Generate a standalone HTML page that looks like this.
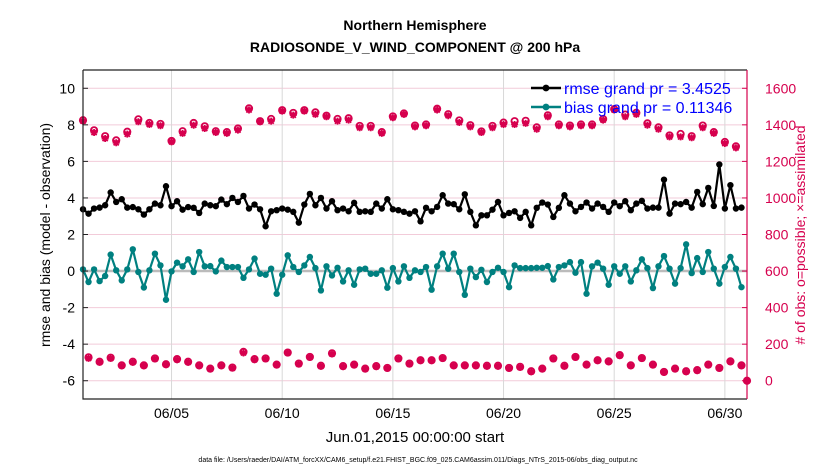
<!DOCTYPE html>
<html><head><meta charset="utf-8"><style>
html,body{margin:0;padding:0;background:#fff;width:830px;height:470px;overflow:hidden}
svg{display:block;font-family:"Liberation Sans",Arial,sans-serif}
</style></head><body>
<svg id="chart" width="830" height="470" viewBox="0 0 830 470" xmlns="http://www.w3.org/2000/svg">
<text x="415" y="30" text-anchor="middle" font-size="14" font-weight="bold">Northern Hemisphere</text>
<text x="415" y="52" text-anchor="middle" font-size="14" font-weight="bold">RADIOSONDE_V_WIND_COMPONENT @ 200 hPa</text>
<text transform="translate(50,235) rotate(-90)" text-anchor="middle" font-size="14">rmse and bias (model - observation)</text>
<text transform="translate(805,235) rotate(-90)" text-anchor="middle" font-size="14" fill="#d6004e"># of obs: o=possible; ×=assimilated</text>
<text x="415" y="442" text-anchor="middle" font-size="15">Jun.01,2015 00:00:00 start</text>
<text x="418" y="462" text-anchor="middle" font-size="7">data file: /Users/raeder/DAI/ATM_forcXX/CAM6_setup/f.e21.FHIST_BGC.f09_025.CAM6assim.011/Diags_NTrS_2015-06/obs_diag_output.nc</text>
<g id="grid"></g>
<g id="marks"></g>
<g id="axes"></g>
<g id="legend"></g>
</svg>
<script>
const xTickDays=[4,9,14,19,24,29];
const xTickLabels=["06/05","06/10","06/15","06/20","06/25","06/30"];
const leftTicks=[-6,-4,-2,0,2,4,6,8,10];
const rightTicks=[0,200,400,600,800,1000,1200,1400,1600];
const rmse=[3.38,3.14,3.42,3.47,3.6,4.3,3.78,3.93,3.47,3.5,3.38,3.09,3.38,3.69,3.6,4.64,3.55,3.82,3.36,3.5,3.46,3.18,3.69,3.6,3.55,3.91,3.66,4.0,3.78,4.11,
3.42,3.64,3.38,2.45,3.27,3.33,3.42,3.36,3.24,2.65,3.64,4.22,3.6,4.0,3.42,3.82,3.33,3.42,3.27,3.73,3.24,3.27,3.24,3.69,3.42,3.93,3.38,3.33,3.24,3.14,
3.27,2.72,3.46,3.27,3.51,4.15,3.69,3.66,3.38,4.2,3.24,2.5,3.05,3.05,3.36,3.78,3.05,3.18,3.27,2.91,3.24,2.5,3.46,3.75,3.64,2.96,3.46,4.15,3.69,3.27,
3.51,3.75,3.42,3.69,3.51,3.24,3.75,3.55,3.82,3.33,3.69,3.84,3.42,3.47,3.47,5.0,3.14,3.69,3.66,3.78,3.47,4.33,3.66,4.55,3.56,5.83,3.42,4.7,3.42,3.47];
const bias=[0.09,-0.6,0.09,-0.55,-0.27,0.9,0.04,-0.51,0.09,1.19,-0.05,-0.9,0.04,0.95,0.31,-1.57,-0.02,0.46,0.26,0.64,-0.05,1.04,0.26,0.27,-0.02,0.57,0.22,0.22,0.22,-0.37,
0.09,0.68,-0.15,-0.2,0.13,-1.24,-0.2,0.86,0.22,-0.05,0.31,0.77,0.16,-1.06,0.26,-0.24,0.18,-0.57,0.04,-0.75,0.09,0.13,-0.15,-0.15,0.04,-0.91,0.16,-0.57,0.26,-0.37,
0.04,-0.05,0.22,-1.02,0.26,0.95,0.13,0.95,-0.05,-1.3,0.13,-0.33,0.07,-0.6,-0.05,0.18,-0.05,-0.88,0.31,0.16,0.16,0.16,0.18,0.18,0.27,-0.46,0.22,0.31,0.49,-0.09,
0.49,-1.24,0.26,0.46,0.13,-0.75,0.26,-0.15,0.26,-0.57,0.04,0.64,0.16,-0.93,0.26,0.82,0.13,-0.69,0.16,1.46,-0.11,0.71,-0.05,1.04,0.13,-0.69,0.22,0.77,0.13,-0.88];
const assimMain=[1420,1358,1325,1302,1349,1417,1402,1395,1307,1353,1398,1380,1358,1353,1371,1481,1417,1420,1475,1453,1475,1457,1444,1420,1426,1384,1384,1353,1439,1457,
1389,1395,1481,1450,1413,1389,1358,1384,1402,1402,1408,1376,1444,1395,1389,1395,1395,1426,1481,1444,1457,1398,1376,1334,1334,1329,1384,1353,1298,1274,0];
const possibleMain=[1425,1370,1338,1315,1362,1430,1410,1405,1312,1365,1410,1392,1365,1360,1380,1490,1420,1432,1480,1465,1480,1468,1450,1432,1436,1394,1394,1360,1446,1462,
1396,1402,1488,1458,1424,1398,1364,1394,1412,1420,1422,1386,1452,1402,1396,1402,1402,1432,1486,1456,1466,1408,1386,1342,1350,1338,1396,1360,1306,1282,0];
const assimOff=[122,101,122,82,101,82,119,88,115,101,82,64,82,69,152,115,119,86,152,91,128,79,146,77,86,64,77,68,119,91,
110,110,122,82,82,82,79,79,68,73,49,64,119,79,128,86,110,104,137,82,122,86,46,64,49,55,86,68,104,82];
const possibleOff=[128,104,126,84,104,84,122,90,118,104,84,66,84,72,158,118,122,88,154,94,130,82,150,80,88,66,80,70,122,94,
112,112,124,84,84,84,82,82,70,76,52,66,122,82,130,88,112,106,140,84,124,88,48,66,52,58,88,70,106,84];

const X0=83,X1=747,Y0=70,Y1=399;
const xs=d=>X0+(d/30)*(X1-X0);
const yL=v=>Y1-(v+7)/18*(Y1-Y0);
const yR=c=>yL(c/100-6);
const NS="http://www.w3.org/2000/svg";
function mk(tag,attrs,parent){const e=document.createElementNS(NS,tag);for(const k in attrs)e.setAttribute(k,attrs[k]);parent.appendChild(e);return e;}
const grid=document.getElementById('grid'),marks=document.getElementById('marks'),axes=document.getElementById('axes'),legend=document.getElementById('legend');

leftTicks.forEach(v=>{
 const l=mk('line',{x1:X0,x2:X1,y1:yL(v),y2:yL(v),stroke:'#f2cbd9','stroke-width':1},grid);
 
 
 const t=mk('line',{x1:X0,x2:X0+5,y1:yL(v),y2:yL(v),stroke:'#222','stroke-width':1},axes);
 
 
 const tx=mk('text',{x:X0-8,y:yL(v)+5,'text-anchor':'end','font-size':14},axes);tx.textContent=v;
 
 
});
rightTicks.forEach(c=>{
 const t=mk('line',{x1:X1-5,x2:X1,y1:yR(c),y2:yR(c),stroke:'#d6004e','stroke-width':1},axes);
 
 
 const tx=mk('text',{x:X1+18,y:yR(c)+5,'font-size':14,fill:'#d6004e'},axes);tx.textContent=c;
 
 
});
xTickDays.forEach((d,i)=>{
 const l=mk('line',{x1:xs(d),x2:xs(d),y1:Y0,y2:Y1,stroke:'#d8d8d8','stroke-width':1},grid);
 
 
 const tx=mk('text',{x:xs(d),y:418,'text-anchor':'middle','font-size':14},axes);tx.textContent=xTickLabels[i];
 
 
});
const zl=mk('line',{x1:X0,x2:X1,y1:yL(0),y2:yL(0),stroke:'#bbb','stroke-width':2.5},grid);


const fr=mk('path',{d:`M${X0},${Y0}V${Y1}H${X1}M${X0},${Y0}H${X1}`,fill:'none',stroke:'#222','stroke-width':1.2},axes);


const ra=mk('line',{x1:X1,x2:X1,y1:Y0,y2:Y1,stroke:'#d6004e','stroke-width':1.2},axes);



function star(cx,cy,name){
 const g=mk('g',{},marks);
 
 
 mk('path',{d:`M${cx-3.5},${cy}H${cx+3.5}M${cx},${cy-3.5}V${cy+3.5}M${cx-2.6},${cy-2.6}L${cx+2.6},${cy+2.6}M${cx-2.6},${cy+2.6}L${cx+2.6},${cy-2.6}`,stroke:'#d6004e','stroke-width':1.8},g);
 mk('circle',{cx:cx,cy:cy,r:2.6,fill:'#d6004e'},g);
}
function ring(cx,cy,name){
 const c=mk('circle',{cx:cx,cy:cy,r:3.2,fill:'none',stroke:'#d6004e','stroke-width':1.8},marks);
 
 
}
possibleMain.forEach((c,j)=>ring(xs(j*0.5),yR(c),'possible-obs-point'));
assimMain.forEach((c,j)=>star(xs(j*0.5),yR(c),'assimilated-obs-point'));
possibleOff.forEach((c,k)=>ring(xs(0.25+k*0.5),yR(c),'possible-obs-point-offhour'));
assimOff.forEach((c,k)=>star(xs(0.25+k*0.5),yR(c),'assimilated-obs-point-offhour'));

function series(vals,color,name){
 const p=mk('polyline',{points:vals.map((v,i)=>xs(i*0.25)+','+yL(v)).join(' '),fill:'none',stroke:color,'stroke-width':2.2,'stroke-linejoin':'round'},marks);
 
 
 vals.forEach((v,i)=>{
  const c=mk('circle',{cx:xs(i*0.25),cy:yL(v),r:3.2,fill:color},marks);
  
  
 });
}
series(bias,'#008080','bias');
series(rmse,'#000','rmse');

[['#000','rmse grand pr = 3.4525',88,'legend-rmse'],['#008080','bias grand pr = 0.11346',107,'legend-bias']].forEach(r=>{
 const g=mk('g',{},legend);
 
 
 mk('line',{x1:531,x2:561,y1:r[2],y2:r[2],stroke:r[0],'stroke-width':2.5},g);
 mk('circle',{cx:546,cy:r[2],r:3.4,fill:r[0]},g);
 const t=mk('text',{x:564,y:r[2]+6,'font-size':16,fill:'#0000ff'},g);t.textContent=r[1];
});
</script>
</body></html>
